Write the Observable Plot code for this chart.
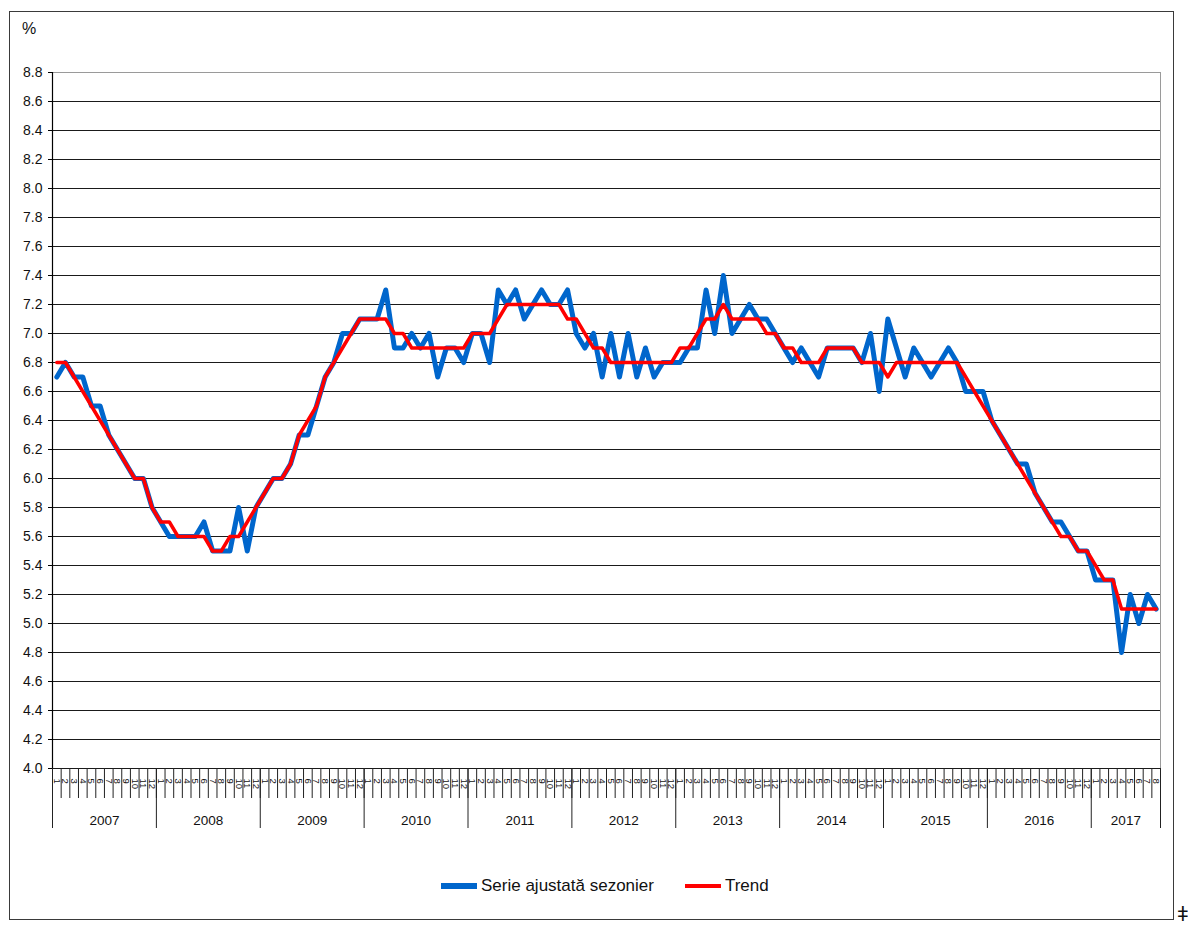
<!DOCTYPE html>
<html><head><meta charset="utf-8">
<script src="https://cdn.jsdelivr.net/npm/d3@7"></script>
<script src="https://cdn.jsdelivr.net/npm/@observablehq/plot@0.6"></script>
<style>
body{margin:0;background:#fff;font-family:"Liberation Sans",Arial,sans-serif;width:1188px;height:929px;overflow:hidden;position:relative;}
#frame{position:absolute;left:9px;top:11px;width:1165px;height:909px;border:1.5px solid #3a3a3a;border-right-width:1px;border-bottom-width:1px;box-sizing:border-box;}
#pct{position:absolute;left:22px;top:20px;font-size:16px;color:#111;}
#chart{position:absolute;left:0;top:0;}
#legend{position:absolute;top:876px;left:441px;font-size:17px;color:#111;display:flex;align-items:center;white-space:nowrap;}
.sw{display:inline-block;width:36px;margin-right:4px;}
#odd{position:absolute;left:1177px;top:903px;font-size:20px;color:#111;}
</style></head>
<body>
<div id="frame"></div>
<div id="pct">%</div>
<div id="chart"></div>
<div id="legend"><span class="sw" style="height:6px;background:#0066cc"></span><span>Serie ajustată sezonier</span><span style="display:inline-block;width:31px"></span><span class="sw" style="height:4px;background:#ff0000"></span><span>Trend</span></div>
<div id="odd">ǂ</div>
<script>
const years = [2007, 2008, 2009, 2010, 2011, 2012, 2013, 2014, 2015, 2016, 2017];
const monthsInYear = [12, 12, 12, 12, 12, 12, 12, 12, 12, 12, 8];
const monthLabels = ["1","2","3","4","5","6","7","8","9","10","11","12"];
const yTicks = [4.0,4.2,4.4,4.6,4.8,5.0,5.2,5.4,5.6,5.8,6.0,6.2,6.4,6.6,6.8,7.0,7.2,7.4,7.6,7.8,8.0,8.2,8.4,8.6,8.8];

const seasonal = [
  6.7, 6.8, 6.7, 6.7, 6.5, 6.5, 6.3, 6.2, 6.1, 6.0, 6.0, 5.8,
  5.7, 5.6, 5.6, 5.6, 5.6, 5.7, 5.5, 5.5, 5.5, 5.8, 5.5, 5.8,
  5.9, 6.0, 6.0, 6.1, 6.3, 6.3, 6.5, 6.7, 6.8, 7.0, 7.0, 7.1,
  7.1, 7.1, 7.3, 6.9, 6.9, 7.0, 6.9, 7.0, 6.7, 6.9, 6.9, 6.8,
  7.0, 7.0, 6.8, 7.3, 7.2, 7.3, 7.1, 7.2, 7.3, 7.2, 7.2, 7.3,
  7.0, 6.9, 7.0, 6.7, 7.0, 6.7, 7.0, 6.7, 6.9, 6.7, 6.8, 6.8,
  6.8, 6.9, 6.9, 7.3, 7.0, 7.4, 7.0, 7.1, 7.2, 7.1, 7.1, 7.0,
  6.9, 6.8, 6.9, 6.8, 6.7, 6.9, 6.9, 6.9, 6.9, 6.8, 7.0, 6.6,
  7.1, 6.9, 6.7, 6.9, 6.8, 6.7, 6.8, 6.9, 6.8, 6.6, 6.6, 6.6,
  6.4, 6.3, 6.2, 6.1, 6.1, 5.9, 5.8, 5.7, 5.7, 5.6, 5.5, 5.5,
  5.3, 5.3, 5.3, 4.8, 5.2, 5.0, 5.2, 5.1
];
const trend = [
  6.8, 6.8, 6.7, 6.6, 6.5, 6.4, 6.3, 6.2, 6.1, 6.0, 6.0, 5.8,
  5.7, 5.7, 5.6, 5.6, 5.6, 5.6, 5.5, 5.5, 5.6, 5.6, 5.7, 5.8,
  5.9, 6.0, 6.0, 6.1, 6.3, 6.4, 6.5, 6.7, 6.8, 6.9, 7.0, 7.1,
  7.1, 7.1, 7.1, 7.0, 7.0, 6.9, 6.9, 6.9, 6.9, 6.9, 6.9, 6.9,
  7.0, 7.0, 7.0, 7.1, 7.2, 7.2, 7.2, 7.2, 7.2, 7.2, 7.2, 7.1,
  7.1, 7.0, 6.9, 6.9, 6.8, 6.8, 6.8, 6.8, 6.8, 6.8, 6.8, 6.8,
  6.9, 6.9, 7.0, 7.1, 7.1, 7.2, 7.1, 7.1, 7.1, 7.1, 7.0, 7.0,
  6.9, 6.9, 6.8, 6.8, 6.8, 6.9, 6.9, 6.9, 6.9, 6.8, 6.8, 6.8,
  6.7, 6.8, 6.8, 6.8, 6.8, 6.8, 6.8, 6.8, 6.8, 6.7, 6.6, 6.5,
  6.4, 6.3, 6.2, 6.1, 6.0, 5.9, 5.8, 5.7, 5.6, 5.6, 5.5, 5.5,
  5.4, 5.3, 5.3, 5.1, 5.1, 5.1, 5.1, 5.1
];

// derived tables
const rows = seasonal.map((v, i) => ({i: i + 0.5, sa: v, tr: trend[i]}));
const months = [];
const yearRows = [];
let start = 0;
years.forEach((yr, k) => {
  const n = monthsInYear[k];
  for (let m = 0; m < n; m++) months.push({c: start + m + 0.5, label: monthLabels[m]});
  yearRows.push({start, end: start + n, mid: start + n / 2, label: String(yr)});
  start += n;
});
const total = start;
const monthEdges = d3.range(0, total + 1);
const yearEdges = [0, ...yearRows.map(d => d.end)];

const chart = Plot.plot({
  width: 1188,
  height: 850,
  marginTop: 72,
  marginBottom: 82,
  marginLeft: 52,
  marginRight: 28,
  style: {fontFamily: "'Liberation Sans', Arial, sans-serif", color: "#111", background: "transparent"},
  x: {type: "linear", domain: [0, total], axis: null},
  y: {domain: [4.0, 8.8], axis: null},
  marks: [
    Plot.ruleY(yTicks.filter(d => d < 8.8), {stroke: "#1a1a1a", strokeWidth: 1}),
    Plot.ruleY([8.8], {stroke: "#9a9a9a", strokeWidth: 1}),
    Plot.ruleX([total], {y1: 4.0, y2: 8.8, stroke: "#9a9a9a", strokeWidth: 1}),
    Plot.ruleX([0], {y1: 4.0, y2: 8.8, stroke: "#000", strokeWidth: 1.2}),
    Plot.axisY(yTicks, {tickSize: 4, tickPadding: 6, fontSize: 14, tickFormat: d3.format(".1f"), stroke: "#000"}),
    Plot.axisX(monthEdges, {tickSize: 30, tickFormat: () => "", stroke: "#222"}),
    Plot.axisX(yearEdges, {tickSize: 60, tickFormat: () => "", stroke: "#222"}),
    Plot.text(months, {x: "c", y: () => 4.0, text: "label", rotate: 90, textAnchor: "start", dy: 10, fontSize: 9.5, fill: "#111"}),
    Plot.text(yearRows, {x: "mid", y: () => 4.0, text: "label", dy: 52, fontSize: 13.5, fill: "#111"}),
    Plot.line(rows, {x: "i", y: "sa", stroke: "#0066cc", strokeWidth: 5}),
    Plot.line(rows, {x: "i", y: "tr", stroke: "#ff0000", strokeWidth: 3.5})
  ]
});
document.getElementById("chart").appendChild(chart);
</script>
</body></html>
